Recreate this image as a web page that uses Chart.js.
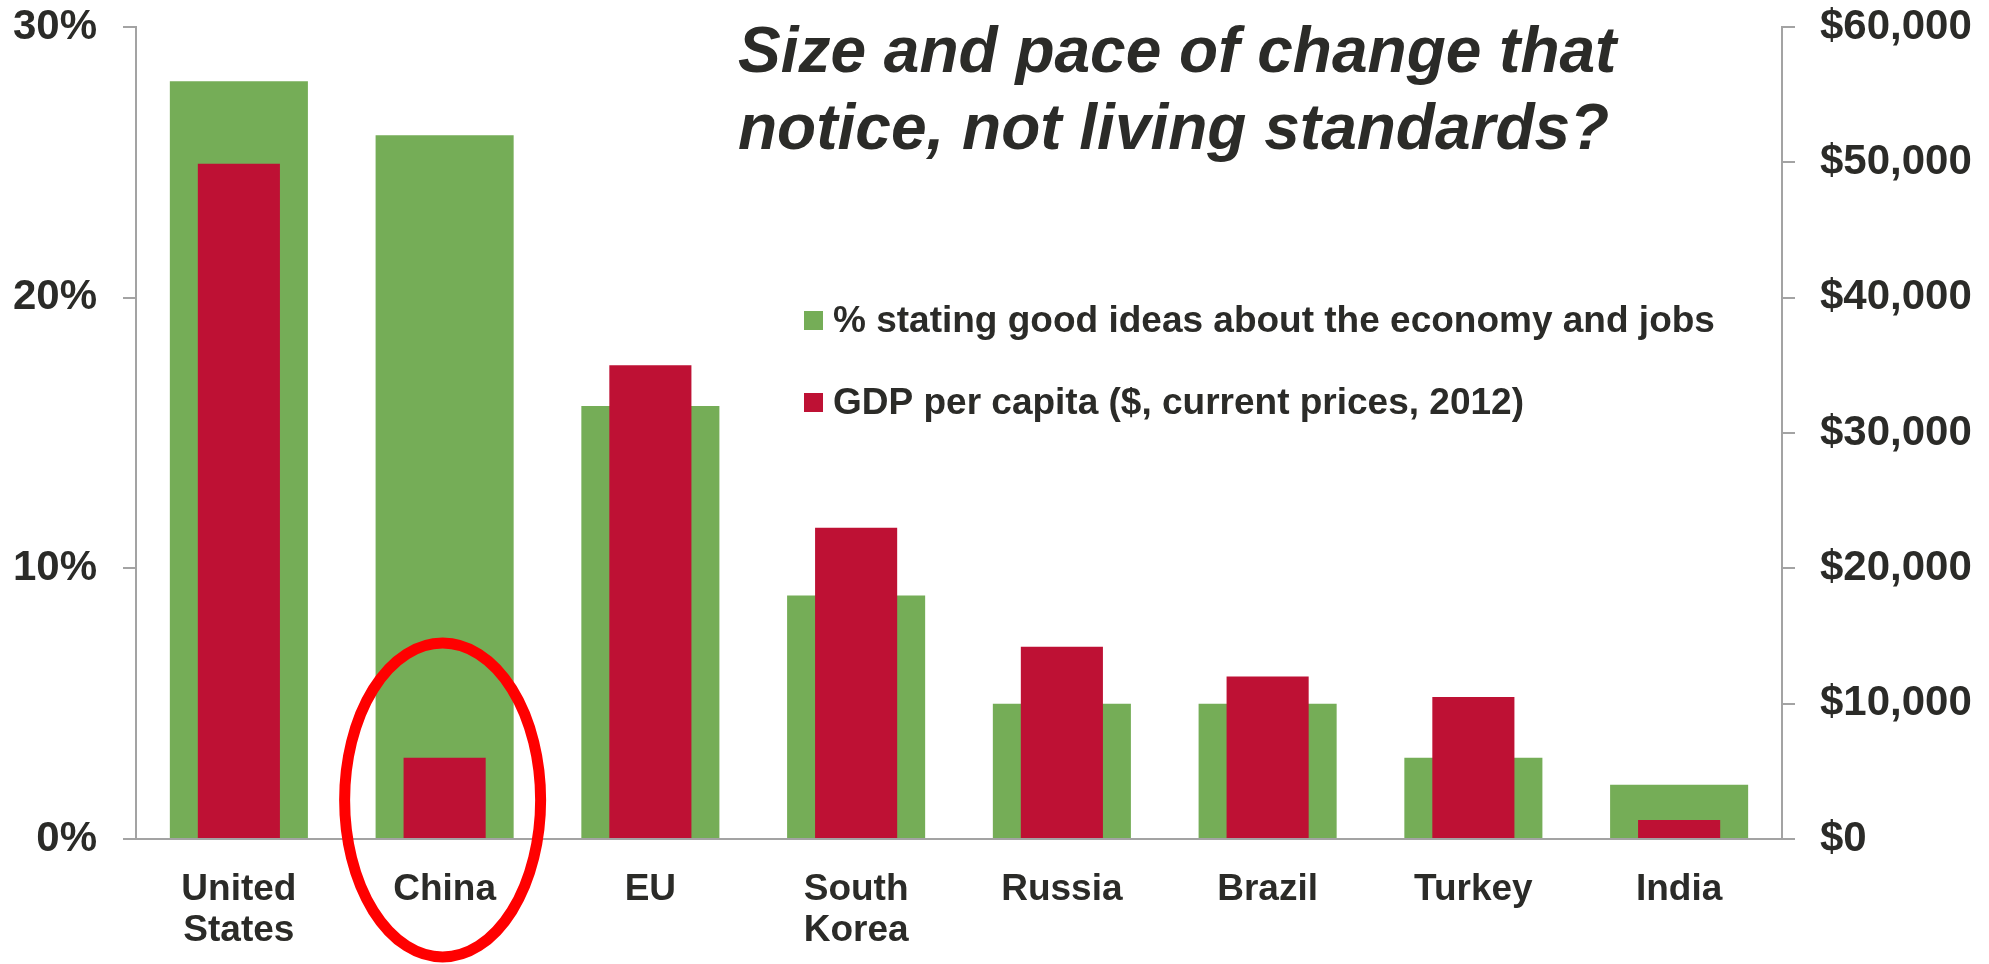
<!DOCTYPE html>
<html>
<head>
<meta charset="utf-8">
<script src="https://cdn.jsdelivr.net/npm/chart.js@4/dist/chart.umd.min.js"></script>
<style>
  html, body { margin: 0; padding: 0; background: #ffffff; }
  #wrap { position: relative; width: 1989px; height: 964px; }
</style>
</head>
<body>
<div id="wrap"><canvas id="c" width="1989" height="964"></canvas></div>
<script>
// ---- data ----
const categories = [['United', 'States'], 'China', 'EU', ['South', 'Korea'], 'Russia', 'Brazil', 'Turkey', 'India'];
const goodIdeasPct = [28, 26, 16, 9, 5, 5, 3, 2];
const gdpPerCapita = [49900, 6000, 35000, 23000, 14200, 12000, 10500, 1400];
const seriesNames = ['% stating good ideas about the economy and jobs', 'GDP per capita ($, current prices, 2012)'];
const titleLines = ['Size and pace of change that', 'notice, not living standards?'];
const pctTicks = [0, 10, 20, 30];
const gdpTicks = [0, 10000, 20000, 30000, 40000, 50000, 60000];
const highlightCategory = 'China';

const GREEN = '#75AD57';
const RED = '#BE1134';
const TEXT = '#2B2B28';
const AXIS = '#A3A3A3';
const FONT = '"Liberation Sans", Arial, sans-serif';

const overlayPlugin = {
  id: 'overlay',
  afterDraw(chart) {
    const ctx = chart.ctx;
    const x = chart.scales.x;
    const y = chart.scales.y;
    ctx.save();
    // title
    ctx.fillStyle = TEXT;
    ctx.font = 'italic bold 64px ' + FONT;
    ctx.textBaseline = 'alphabetic';
    ctx.textAlign = 'left';
    ctx.fillText(titleLines[0], 738, 72);
    ctx.fillText(titleLines[1], 738, 149);
    // legend
    ctx.font = 'bold 37px ' + FONT;
    const legY = [320, 402];
    chart.data.datasets.slice().sort((a, b) => a.legendIndex - b.legendIndex).forEach((ds, i) => {
      ctx.fillStyle = ds.backgroundColor;
      ctx.fillRect(804, legY[i] - 9, 19, 19);
      ctx.fillStyle = TEXT;
      ctx.textBaseline = 'middle';
      ctx.fillText(ds.label, 833, legY[i] + 2);
    });
    // highlight ellipse
    const idx = categories.findIndex(c => (Array.isArray(c) ? c.join(' ') : c) === highlightCategory);
    const cx = x.getPixelForValue(idx) - 2;
    const cy = y.getPixelForValue(0) - 39;
    ctx.beginPath();
    ctx.ellipse(cx, cy, 98, 157, 0, 0, Math.PI * 2);
    ctx.strokeStyle = '#FF0000';
    ctx.lineWidth = 11;
    ctx.stroke();
    ctx.restore();
  }
};

new Chart(document.getElementById('c'), {
  type: 'bar',
  data: {
    labels: categories,
    datasets: [
      {
        label: seriesNames[0],
        data: goodIdeasPct,
        backgroundColor: GREEN,
        yAxisID: 'y',
        grouped: false,
        categoryPercentage: 1,
        barPercentage: 0.671,
        order: 2,
        legendIndex: 0
      },
      {
        label: seriesNames[1],
        data: gdpPerCapita,
        backgroundColor: RED,
        yAxisID: 'y1',
        grouped: false,
        categoryPercentage: 1,
        barPercentage: 0.399,
        order: 1,
        legendIndex: 1
      }
    ]
  },
  options: {
    responsive: false,
    devicePixelRatio: 1,
    animation: false,
    layout: { padding: { top: 27, left: 0, right: 0, bottom: 0 } },
    plugins: {
      legend: { display: false },
      title: { display: false },
      tooltip: { enabled: false }
    },
    scales: {
      x: {
        afterFit(s) { s.height = 125; s.paddingLeft = 0; s.paddingRight = 0; },
        grid: { display: false },
        border: { display: true, color: AXIS, width: 2 },
        ticks: {
          color: TEXT,
          font: { family: FONT, size: 37, weight: 'bold', lineHeight: 1.11 },
          padding: 22,
          maxRotation: 0,
          autoSkip: false
        }
      },
      y: {
        position: 'left',
        min: 0,
        max: 30,
        afterFit(s) { s.width = 136; s.paddingTop = 0; s.paddingBottom = 0; },
        afterBuildTicks(s) { s.ticks = pctTicks.map(v => ({ value: v })); },
        grid: { drawOnChartArea: false, drawTicks: true, tickLength: 13, color: AXIS, lineWidth: 2 },
        border: { display: true, color: AXIS, width: 2 },
        ticks: {
          color: TEXT,
          font: { family: FONT, size: 42, weight: 'bold' },
          padding: 26,
          callback: v => v + '%'
        }
      },
      y1: {
        position: 'right',
        min: 0,
        max: 60000,
        afterFit(s) { s.width = 207; s.paddingTop = 0; s.paddingBottom = 0; },
        afterBuildTicks(s) { s.ticks = gdpTicks.map(v => ({ value: v })); },
        grid: { drawOnChartArea: false, drawTicks: true, tickLength: 13, color: AXIS, lineWidth: 2 },
        border: { display: true, color: AXIS, width: 2 },
        ticks: {
          color: TEXT,
          font: { family: FONT, size: 42, weight: 'bold' },
          padding: 25,
          callback: v => '$' + Number(v).toLocaleString('en-US')
        }
      }
    }
  },
  plugins: [overlayPlugin]
});
</script>
</body>
</html>
